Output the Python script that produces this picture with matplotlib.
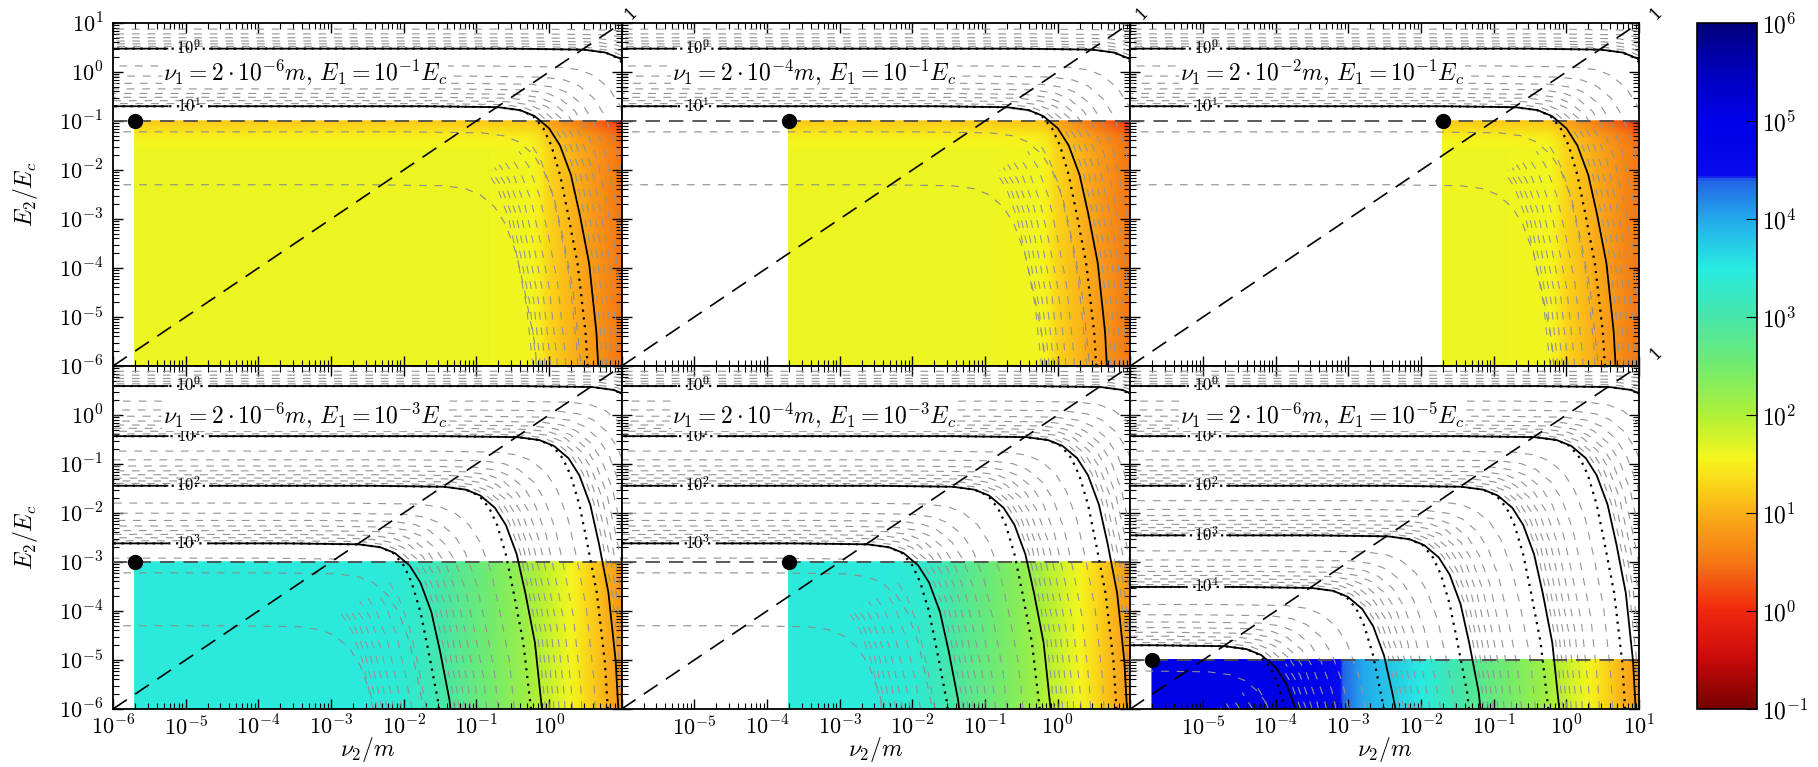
import numpy as np
import matplotlib
matplotlib.use('Agg')
import matplotlib.pyplot as plt
from matplotlib.colors import LinearSegmentedColormap, LogNorm
from matplotlib.ticker import LogLocator, FuncFormatter, NullFormatter
from matplotlib.cm import ScalarMappable

plt.rcParams['mathtext.fontset'] = 'cm'
plt.rcParams['font.family'] = 'serif'
plt.rcParams['font.serif'] = ['DejaVu Serif']

# ---- panel parameters (row major) ----
nu1 = [2e-6, 2e-4, 2e-2, 2e-6, 2e-4, 2e-6]
E1 = [1e-1, 1e-1, 1e-1, 1e-3, 1e-3, 1e-5]
nu1_exp = [-6, -4, -2, -6, -4, -6]
E1_exp = [-1, -1, -1, -3, -3, -5]

# height of the flat part of each decade contour
lev_top = [0.1, 1, 10, 100, 1000]
c_top = [30, 3.0, 0.2, 0.025, 0.002]
lev_bot = [0.1, 1, 10, 100, 1000, 1e4]
c_bot = [39, 3.9, 0.37, 0.036, 0.0024, 2.4e-4]
lev_br = [0.1, 1, 10, 100, 1e3, 1e4, 1e5, 1e6]
c_br = [39, 3.9, 0.37, 0.036, 0.0035, 3.1e-4, 2.0e-5, 2.0e-6]

solid_top = [1, 10]
solid_bot = [1, 10, 100, 1000]
solid_br = [1, 10, 100, 1e3, 1e4, 1e5]
labelled_br = [1, 10, 100, 1e3, 1e4]

# shape of one contour relative to its corner (decades)
tpl_u = [-12, -1, 0, 0.3, 0.5, 0.7, 0.85, 1.0, 1.12, 1.25, 1.35, 1.42, 1.47, 1.5]
tpl_v = [0, 0, -0.02, -0.08, -0.2, -0.45, -0.8, -1.4, -2.2, -3.2, -4.6, -6.5, -9, -14]
dot_du = [0, 0, 0, 0, -0.02, -0.08, -0.12, -0.15, -0.16, -0.16, -0.15, -0.14, -0.13, -0.13]

# the two thin dashed curves below E1 (fraction of E1, shift of bend in decades)
thin_frac = [0.6, 0.05]
thin_shift = [0.3, 0.85]

# colour field: plateau per panel and tail vs log nu2
plateau = [1.6, 1.6, 1.6, 3.45, 3.45, 5.0]
tail_top_x = [-6, -1, -0.3, 0, 0.5, 1]
tail_top_v = [6, 2.3, 1.9, 1.3, 0.9, 0.5]
tail_bot_x = [-6, -4, -3.3, -2.8, -2.0, -1.36, -0.32, 0.36, 1.0]
tail_bot_v = [7, 5.6, 4.7, 4.0, 3.5, 2.9, 2.15, 1.5, 0.8]
edge_d = [0, 0.1, 0.3, 0.6]
edge_top = [0.4, 0.3, 0.1, 0]
edge_bot = [0, 0, 0, 0]

# colour bar colours (log10 value -> rgb)
cm_logv = [-1, -0.5, 0, 0.5, 1.0, 1.3, 1.55, 2.0, 2.5, 3.0, 3.5, 4.0, 4.4, 4.45, 5.0, 5.5, 6.0]
cm_rgb = [(120, 0, 0), (200, 10, 10), (240, 40, 15), (245, 120, 20), (250, 175, 25),
          (250, 215, 25), (245, 245, 30), (175, 240, 55), (115, 235, 110), (70, 230, 170),
          (40, 235, 225), (35, 170, 235), (35, 100, 230), (10, 10, 240), (0, 0, 232),
          (0, 0, 190), (0, 0, 125)]

cmap = LinearSegmentedColormap.from_list(
    'ref', [((v + 1) / 7.0, tuple(ch / 255.0 for ch in c)) for v, c in zip(cm_logv, cm_rgb)])
norm = LogNorm(1e-1, 1e6)


def bfield(X, Y, levtab, ctab, du):
    W = X - Y
    w_tab = np.array(tpl_u) + np.array(du) - np.array(tpl_v)
    V = np.interp(W, w_tab, tpl_v)
    logc = Y - V
    lc = np.log10(ctab)[::-1]
    ll = np.log10(levtab)[::-1]
    return np.interp(logc, lc, ll)


def cfield(X, Y, plat, tx, tv, e1, drop):
    T = np.interp(X, tx, tv)
    p = 3.0
    base = -np.log10(10 ** (-p * plat) + 10 ** (-p * T)) / p
    return base - np.interp(e1 - Y, edge_d, drop)


W, H = 1818, 767
fig = plt.figure(figsize=(W / 100, H / 100), dpi=100)
L0, R0, T0, B0 = 113, 1639, 23, 709
pw = (R0 - L0) / 3.0
ph = (B0 - T0) / 2.0

xg = np.linspace(-6, 1, 500)
yg = np.linspace(-6, 1, 500)
X, Y = np.meshgrid(xg, yg)
zero_du = [0] * len(tpl_u)

xshow = [[], [], [], list(range(-6, 1)), list(range(-5, 1)), list(range(-5, 2))]
yshow = [list(range(-6, 2)), [], [], list(range(-6, 1)), [], []]

for i in range(6):
    r, c = divmod(i, 3)
    ax = fig.add_axes([(L0 + c * pw) / W, 1 - (T0 + (r + 1) * ph) / H, pw / W, ph / H])
    ax.set_xscale('log')
    ax.set_yscale('log')
    ax.set_xlim(1e-6, 10)
    ax.set_ylim(1e-6, 10)

    if i < 3:
        levtab, ctab, solid, nmax = lev_top, c_top, solid_top, 1
        tx, tv, drop = tail_top_x, tail_top_v, edge_top
        labelled = solid_top
    elif i < 5:
        levtab, ctab, solid, nmax = lev_bot, c_bot, solid_bot, 3
        tx, tv, drop = tail_bot_x, tail_bot_v, edge_bot
        labelled = solid_bot
    else:
        levtab, ctab, solid, nmax = lev_br, c_br, solid_br, 5
        tx, tv, drop = tail_bot_x, tail_bot_v, edge_bot
        labelled = labelled_br
    le1 = np.log10(E1[i])

    # coloured region
    xs = np.linspace(np.log10(nu1[i]), 1, 300)
    ys = np.linspace(-6, le1, 300)
    XC, YC = np.meshgrid(xs, ys)
    ZC = cfield(XC, YC, plateau[i], tx, tv, le1, drop)
    ax.pcolormesh(10 ** xs, 10 ** ys, 10 ** ZC, cmap=cmap, norm=norm,
                  shading='gouraud', zorder=1, rasterized=True)

    # background contours
    Zb = bfield(X, Y, levtab, ctab, zero_du)
    Zd = np.ma.masked_where((Y < le1 + 0.05) & (X - Y < 1.2), Zb)
    dlev = [np.log10(k * 10.0 ** n) for n in range(-1, nmax + 1) for k in range(2, 10)]
    ax.contour(10 ** xg, 10 ** yg, Zd, levels=dlev, colors='0.58',
               linewidths=0.8, linestyles=[(0, (7, 7))], zorder=2)

    for f, s in zip(thin_frac, thin_shift):
        h = f * E1[i]
        ax.plot(h * 10 ** (np.array(tpl_u) + s), h * 10 ** np.array(tpl_v),
                color='0.55', lw=0.8, dashes=(7, 7), zorder=2)

    ax.plot([1e-6, 10], [E1[i], E1[i]], color='0.3', lw=1.3, dashes=(8, 5), zorder=3)

    slev = np.log10(solid)
    cs = ax.contour(10 ** xg, 10 ** yg, Zb, levels=slev, colors='k',
                    linewidths=1.3, zorder=4)
    Zdot = bfield(X, Y, levtab, ctab, dot_du)
    ax.contour(10 ** xg, 10 ** yg, Zdot, levels=slev, colors='k',
               linewidths=1.6, linestyles=[(0, (1, 2.5))], zorder=4)
    lab_pos = [(1.1e-5, ctab[levtab.index(L)]) for L in labelled]
    ax.clabel(cs, levels=np.log10(labelled), manual=lab_pos, inline=True,
              inline_spacing=8, fontsize=12, fmt=lambda v: r'$10^{%d}$' % round(v))

    ax.plot([1e-6, 10], [1e-6, 10], color='k', lw=1.2, dashes=(10, 6), zorder=5)
    ax.plot([nu1[i]], [E1[i]], 'o', color='k', ms=10, clip_on=False, zorder=10)

    ax.text(0.098, 0.857,
            r'$\nu_1 = 2\cdot 10^{%d}m,\, E_1 = 10^{%d}E_c$' % (nu1_exp[i], E1_exp[i]),
            transform=ax.transAxes, fontsize=17, va='center', zorder=6,
            bbox=dict(fc='white', ec='none', pad=0.5))

    for axis in (ax.xaxis, ax.yaxis):
        axis.set_major_locator(LogLocator(base=10, numticks=20))
        axis.set_minor_locator(LogLocator(base=10, subs=np.arange(2, 10), numticks=20))
        axis.set_minor_formatter(NullFormatter())
    xs_ok, ys_ok = xshow[i], yshow[i]
    ax.xaxis.set_major_formatter(FuncFormatter(
        lambda v, p, ok=xs_ok: (r'$10^{%d}$' % round(np.log10(v))) if round(np.log10(v)) in ok else ''))
    ax.yaxis.set_major_formatter(FuncFormatter(
        lambda v, p, ok=ys_ok: (r'$10^{%d}$' % round(np.log10(v))) if round(np.log10(v)) in ok else ''))
    ax.tick_params(which='both', direction='in', top=True, right=True, labelsize=16)
    ax.tick_params(which='major', length=7, width=1)
    ax.tick_params(axis='x', which='major', pad=5)
    ax.tick_params(axis='y', which='major', pad=7)
    ax.tick_params(which='minor', length=4, width=0.8)
    for sp in ax.spines.values():
        sp.set_linewidth(1.3)

# axis titles
for r in range(2):
    fig.text(25 / W, 1 - (T0 + (r + 0.5) * ph) / H, r'$E_2/E_c$', rotation=90,
             fontsize=17, ha='center', va='center')
for c in range(3):
    fig.text((L0 + (c + 0.5) * pw) / W, 1 - 750 / H, r'$\nu_2/m$',
             fontsize=17, ha='center', va='center')

# stray contour labels of the diagonal
for px, py in [(632, 13), (1143, 13), (1657, 13), (1657, 353)]:
    fig.text(px / W, 1 - py / H, '1', rotation=45, fontsize=12,
             ha='center', va='center')

cax = fig.add_axes([1697 / W, 1 - B0 / H, 60 / W, (B0 - T0) / H])
cb = fig.colorbar(ScalarMappable(norm=norm, cmap=cmap), cax=cax)
cb.set_ticks([10.0 ** k for k in range(-1, 7)])
cb.set_ticklabels([r'$10^{%d}$' % k for k in range(-1, 7)])
cb.ax.minorticks_off()
cb.ax.tick_params(direction='in', length=8, labelsize=17)
cb.outline.set_linewidth(1.2)

fig.savefig('out.png', dpi=100)
